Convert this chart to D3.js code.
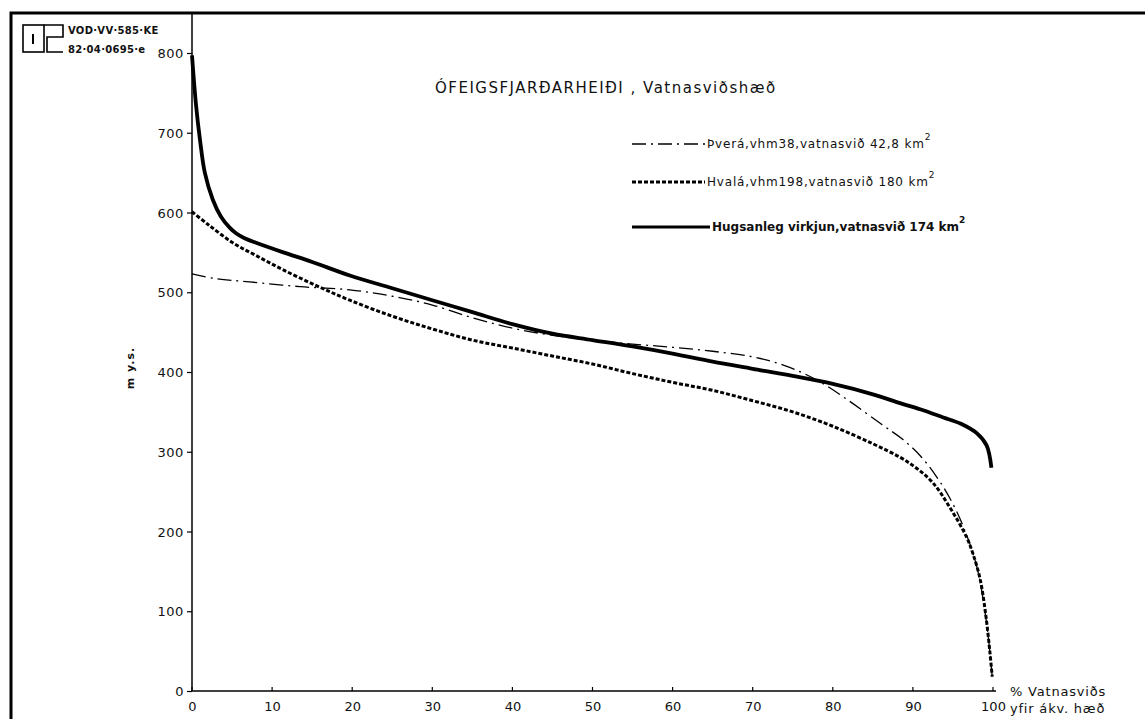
<!DOCTYPE html>
<html>
<head>
<meta charset="utf-8">
<script src="https://cdn.jsdelivr.net/npm/d3@7"></script>
<style>
  body { margin: 0; background: #fff; }
  svg { display: block; }
  text { font-family: "DejaVu Sans", sans-serif; fill: #111; }
</style>
</head>
<body>
<div id="chart"></div>
<script>
// % of catchment above a given height (x) vs. height m y.s. (y)
var xTicks = [0, 10, 20, 30, 40, 50, 60, 70, 80, 90, 100];
var yTicks = [0, 100, 200, 300, 400, 500, 600, 700, 800];

var hugsanlegX = [0, 0.5, 1, 1.6, 2.6, 3.6, 4.7, 5.5, 6.5, 8, 11.4, 15, 19.7, 25, 30, 35, 40, 45, 50, 55, 60, 65, 70, 75, 80, 85, 88.4, 91, 93.8, 96, 98, 99.2, 99.8];
var hugsanlegY = [797, 735, 691, 650, 616, 595, 581, 574, 568, 562, 550, 538, 521, 505, 490, 475, 460, 448, 440, 432, 423, 413, 404, 395, 385, 372, 361, 353, 343, 335, 323, 308, 280];

var hvalaX = [0, 2, 5.1, 8, 11.4, 15.6, 19.7, 25, 30, 35, 40, 45, 50, 55, 60, 65, 70, 75, 80, 85, 88.4, 90.5, 92.5, 94.5, 96.7, 97.5, 98.4, 99.1, 99.6, 99.9];
var hvalaY = [601, 585, 562, 546, 528, 508, 490, 470, 454, 440, 430, 420, 410, 398, 387, 377, 364, 350, 332, 310, 293, 279, 261, 232, 193, 172, 140, 95, 50, 18];

var thveraX = [0, 3, 7.2, 13.5, 19.7, 25, 30, 35, 40, 45, 50, 55, 60, 65, 70, 74, 78, 82, 86, 88.8, 91, 93, 94.6, 96.3, 98, 99.2, 99.9];
var thveraY = [523, 517, 513, 507, 503, 495, 484, 468, 455, 446, 440, 435, 431, 426, 419, 408, 390, 364, 335, 315, 294, 268, 242, 206, 155, 85, 18];

var seriesNames = ["Þverá,vhm38,vatnasvið 42,8 km", "Hvalá,vhm198,vatnasvið 180 km", "Hugsanleg virkjun,vatnasvið 174 km"];

var width = 1145, height = 719;
var margin = {top: 53, left: 192, right: 152, bottom: 28};

var svg = d3.select("#chart").append("svg")
    .attr("width", width)
    .attr("height", height);

var x = d3.scaleLinear().domain([0, 100]).range([margin.left, 993]);
var y = d3.scaleLinear().domain([0, 800]).range([691, 53]);

// frame
svg.append("path")
    .attr("d", "M11,719 V13 H1145")
    .attr("fill", "none")
    .attr("stroke", "#000")
    .attr("stroke-width", 3);

// logo
var logo = svg.append("g").attr("fill", "none").attr("stroke", "#000").attr("stroke-width", 1.6);
logo.append("rect").attr("x", 23).attr("y", 25).attr("width", 21).attr("height", 27);
logo.append("path").attr("d", "M44,25 H63 V37 H47 V52 H63");
logo.append("path").attr("d", "M33,34 V44").attr("stroke-width", 2);
svg.append("text").attr("x", 68).attr("y", 34).attr("font-size", 10).attr("font-weight", "bold")
    .attr("letter-spacing", 0.3).text("VOD·VV·585·KE");
svg.append("text").attr("x", 68).attr("y", 53).attr("font-size", 10).attr("font-weight", "bold")
    .attr("letter-spacing", 0.3).text("82·04·0695·e");

// axes
var yAxis = d3.axisLeft(y).tickValues(yTicks).tickSize(5).tickPadding(3);
var gy = svg.append("g").attr("transform", "translate(" + margin.left + ",0)").call(yAxis);
gy.select(".domain").remove();
gy.selectAll("text").attr("font-size", 13).attr("letter-spacing", 0.6).attr("dy", "0.36em");
svg.append("line").attr("x1", margin.left).attr("x2", margin.left)
    .attr("y1", 13).attr("y2", 691).attr("stroke", "#000").attr("stroke-width", 1.5);

var xAxis = d3.axisBottom(x).tickValues(xTicks).tickSize(0).tickPadding(11);
var gx = svg.append("g").attr("transform", "translate(0,691)").call(xAxis);
gx.select(".domain").remove();
gx.selectAll("text").attr("font-size", 13);
svg.append("line").attr("x1", margin.left).attr("x2", 996)
    .attr("y1", 691).attr("y2", 691).attr("stroke", "#000").attr("stroke-width", 1.5);
svg.selectAll(".xtick").data(xTicks).enter().append("line")
    .attr("x1", function (d) { return x(d); })
    .attr("x2", function (d) { return x(d); })
    .attr("y1", 687).attr("y2", 691)
    .attr("stroke", "#000").attr("stroke-width", 1.2);
svg.selectAll(".tick line").attr("stroke-width", 1.2);

svg.append("text").attr("x", 1010).attr("y", 696).attr("font-size", 13)
    .attr("letter-spacing", 0.8).text("% Vatnasviðs");
svg.append("text").attr("x", 1010).attr("y", 713).attr("font-size", 13)
    .attr("letter-spacing", 0.8).text("yfir ákv. hæð");

svg.append("text")
    .attr("transform", "translate(134,368) rotate(-90)")
    .attr("text-anchor", "middle")
    .attr("font-size", 11)
    .attr("font-weight", "bold")
    .attr("letter-spacing", 1)
    .text("m y.s.");

svg.append("text").attr("x", 435).attr("y", 93).attr("font-size", 15)
    .attr("letter-spacing", 1.5)
    .text("ÓFEIGSFJARÐARHEIÐI , Vatnasviðshæð");

// curves
var line = d3.line()
    .x(function (d) { return x(d[0]); })
    .y(function (d) { return y(d[1]); })
    .curve(d3.curveCatmullRom.alpha(0.5));

function pairs(xs, ys) {
    return xs.map(function (v, i) { return [v, ys[i]]; });
}

var styles = [
    {data: pairs(thveraX, thveraY), width: 1.3, dash: "14,5,2,5"},
    {data: pairs(hvalaX, hvalaY), width: 3, dash: "4,2"},
    {data: pairs(hugsanlegX, hugsanlegY), width: 3.8, dash: null}
];

svg.selectAll(".curve").data(styles).enter().append("path")
    .attr("class", "curve")
    .attr("d", function (d) { return line(d.data); })
    .attr("fill", "none")
    .attr("stroke", "#000")
    .attr("stroke-width", function (d) { return d.width; })
    .attr("stroke-dasharray", function (d) { return d.dash; })
    .attr("stroke-linecap", "butt");

// legend
var legendY = [144, 182, 227];
var legend = svg.selectAll(".legend").data(styles).enter().append("g")
    .attr("transform", function (d, i) { return "translate(632," + legendY[i] + ")"; });
legend.append("line")
    .attr("x1", 0).attr("x2", function (d, i) { return i === 2 ? 78 : 73; })
    .attr("y1", 0).attr("y2", 0)
    .attr("stroke", "#000")
    .attr("stroke-width", function (d) { return Math.min(d.width, 3); })
    .attr("stroke-dasharray", function (d) { return d.dash; });
var lt = legend.append("text")
    .attr("x", function (d, i) { return i === 2 ? 80 : 75; })
    .attr("y", 4)
    .attr("font-size", 12)
    .attr("letter-spacing", function (d, i) { return i === 2 ? 0 : 0.8; })
    .attr("font-weight", function (d, i) { return i === 2 ? "bold" : "normal"; })
    .text(function (d, i) { return seriesNames[i]; });
lt.append("tspan").attr("dy", -8).attr("font-size", 9).text("2");
</script>
</body>
</html>
